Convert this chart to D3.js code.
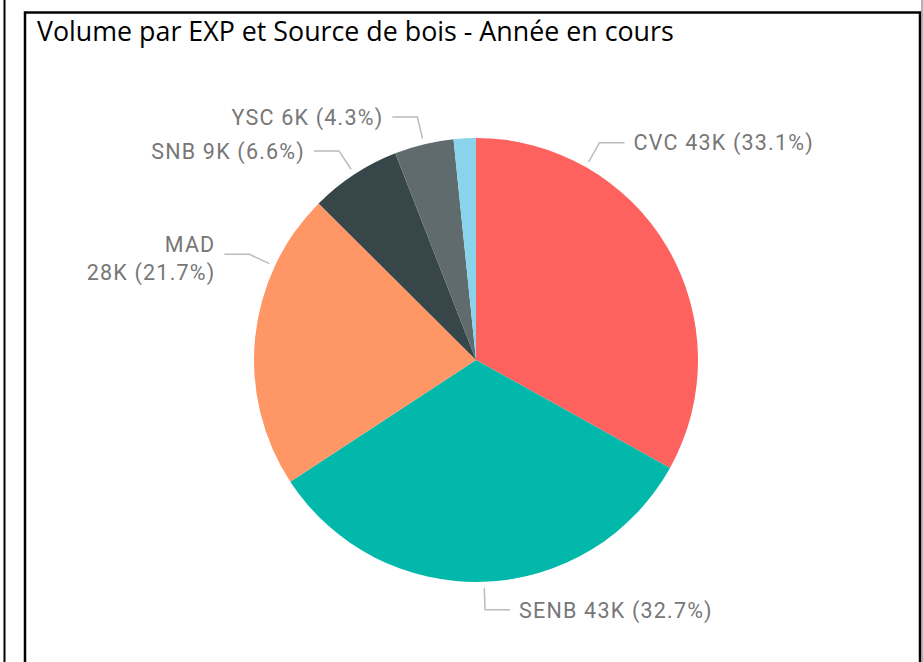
<!DOCTYPE html>
<html>
<head>
<meta charset="utf-8">
<script src="https://cdn.jsdelivr.net/npm/d3@7/dist/d3.min.js"></script>
<style>
  body { margin: 0; background: #fff; }
  .title { font-family: "Segoe UI", "Open Sans", sans-serif; font-size: 26.8px; fill: #000; }
  .lbl { font-family: Roboto, "DejaVu Sans", sans-serif; font-size: 21.5px; fill: #777; letter-spacing: 1.2px; }
  .leader { fill: none; stroke: #bbb; stroke-width: 1.5; }
</style>
</head>
<body>
<div id="chart"></div>
<script>
// data
var sources = ["CVC", "SENB", "MAD", "SNB", "YSC", "Autre"];
var volumes = [43.0, 42.5, 28.2, 8.6, 5.6, 2.1];       // thousands
var valueLabels = ["43K", "43K", "28K", "9K", "6K", ""];
var pctLabels = ["33.1%", "32.7%", "21.7%", "6.6%", "4.3%", ""];
var colors = ["#FD625E", "#01B8AA", "#FE9666", "#374649", "#5F6B6D", "#8AD4EB"];

// label layout (angle of leader line in degrees, null = slice middle)
var labelAngle = [29.6, null, 295, null, null];
var wrapLabel = [false, false, true, false, false];

var W = 923, H = 662;
var cx = 476, cy = 360, r = 222;

var svg = d3.select('#chart').
append('svg').
attr('width', W).
attr('height', H);

// frames
svg.append('line').
attr('x1', 4.5).attr('x2', 4.5).
attr('y1', 0).attr('y2', H).
attr('stroke', '#000').attr('stroke-width', 2);

svg.append('rect').
attr('x', 25).attr('y', 12.5).
attr('width', 895).attr('height', H).
attr('fill', 'none').
attr('stroke', '#000').attr('stroke-width', 2.5);

svg.append('line').
attr('x1', 922).attr('x2', 922).
attr('y1', 0).attr('y2', H).
attr('stroke', '#999').attr('stroke-width', 1.5);

// title
svg.append('text').
attr('class', 'title').
attr('x', 37).
attr('y', 41).
text('Volume par EXP et Source de bois - Année en cours');

var pie = d3.pie().sort(null).value(function(d) { return d; });
var arc = d3.arc().innerRadius(0).outerRadius(r);
var arcs = pie(volumes);

var g = svg.append('g').
attr('transform', 'translate(' + cx + ',' + cy + ')');

g.selectAll('.slice').
data(arcs).
enter().append('path').
attr('class', 'slice').
attr('d', arc).
attr('fill', function(d, i) { return colors[i]; });

// labels + leader lines
arcs.forEach(function(d, i) {
    if (!pctLabels[i]) return;
    var a = labelAngle[i] != null ? labelAngle[i] * Math.PI / 180 : (d.startAngle + d.endAngle) / 2;
    var sx = Math.sin(a), sy = -Math.cos(a);
    var p0 = [(r + 6) * sx, (r + 6) * sy];
    var p1 = [(r + 28) * sx, (r + 28) * sy];
    var right = sx >= 0;
    var p2 = [p1[0] + (right ? 25 : -25), p1[1]];

    g.append('path').
    attr('class', 'leader').
    attr('d', d3.line()([p0, p1, p2]));

    var tx = p2[0] + (right ? 9 : -9);
    var t = g.append('text').
    attr('class', 'lbl').
    attr('x', tx).
    attr('y', p2[1]).
    attr('text-anchor', right ? 'start' : 'end');

    var full = valueLabels[i] + ' (' + pctLabels[i] + ')';
    if (wrapLabel[i]) {
        t.append('tspan').attr('x', tx).attr('dy', '-0.13em').text(sources[i]);
        t.append('tspan').attr('x', tx).attr('dy', '1.3em').text(full);
    } else {
        t.attr('dy', '0.36em').text(sources[i] + ' ' + full);
    }
});
</script>
</body>
</html>
